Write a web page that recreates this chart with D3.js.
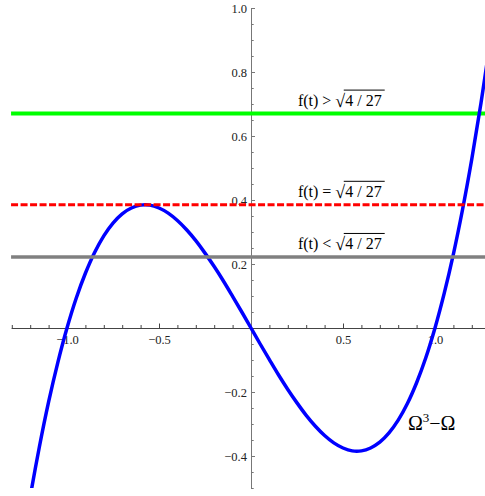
<!DOCTYPE html>
<html>
<head>
<meta charset="utf-8">
<script src="https://cdn.jsdelivr.net/npm/d3@7"></script>
<style>
  body { margin: 0; background: #fff; }
  text { font-family: "Liberation Serif", "Times New Roman", serif; }
</style>
</head>
<body>
<div id="chart"></div>
<script>
// curve samples (Omega, value)
var omega = [-1.25, -1.2, -1.15, -1.1, -1.05, -1.0, -0.95, -0.9, -0.85, -0.8, -0.75, -0.7, -0.65, -0.6, -0.55, -0.5, -0.45, -0.4, -0.35, -0.3, -0.25, -0.2, -0.15, -0.1, -0.05,
  0, 0.05, 0.1, 0.15, 0.2, 0.25, 0.3, 0.35, 0.4, 0.45, 0.5, 0.55, 0.6, 0.65, 0.7, 0.75, 0.8, 0.85, 0.9, 0.95, 1.0, 1.05, 1.1, 1.15, 1.2, 1.25, 1.3];
var curveValues = [-0.703, -0.528, -0.371, -0.231, -0.108, 0, 0.093, 0.171, 0.236, 0.288, 0.328, 0.357, 0.375, 0.384, 0.384, 0.375, 0.359, 0.336, 0.307, 0.273, 0.234, 0.192, 0.147, 0.099, 0.050,
  0, -0.050, -0.099, -0.147, -0.192, -0.234, -0.273, -0.307, -0.336, -0.359, -0.375, -0.384, -0.384, -0.375, -0.357, -0.328, -0.288, -0.236, -0.171, -0.093, 0, 0.108, 0.231, 0.371, 0.528, 0.703, 0.897];

var levels = [0.67, 0.385, 0.222];
var levelColors = ['#00ff00', '#ff0000', '#808080'];
var levelSigns = ['>', '=', '<'];

var xMajor = [-1.0, -0.5, 0.5, 1.0];
var yMajor = [-0.4, -0.2, 0.2, 0.4, 0.6, 0.8, 1.0];

var width = 485, height = 496;

var svg = d3.select('#chart').append('svg')
  .attr('width', width)
  .attr('height', height);

var x = d3.scaleLinear().domain([-1.304, 1.275]).range([251 - 1.304 * 184, 251 + 1.275 * 184]);
var y = d3.scaleLinear().domain([-0.5, 1.0]).range([488, 8]);

var xMinor = d3.range(-13, 13).map(function(i) { return i / 10; }).filter(function(v) { return Math.abs(v) > 1e-9 && xMajor.indexOf(v) < 0; });
var yMinor = d3.range(-10, 21).map(function(i) { return i / 20; }).filter(function(v) { return Math.abs(v) > 1e-9 && yMajor.every(function(m) { return Math.abs(m - v) > 1e-9; }); });

var fmt = d3.format('.1f');

// x axis
var gx = svg.append('g').attr('transform', 'translate(0,' + y(0) + ')');
gx.call(d3.axisBottom(x).tickValues(xMajor).tickFormat(fmt).tickSizeInner(-4.5).tickSizeOuter(0).tickPadding(7));
gx.append('g').call(d3.axisBottom(x).tickValues(xMinor).tickFormat('').tickSizeInner(-3).tickSizeOuter(0))
  .select('.domain').remove();
gx.selectAll('path, line').attr('stroke', '#444');
gx.selectAll('text').attr('fill', '#222').style('font-size', '12.5px').style('font-family', '"Liberation Serif", serif');

// y axis
var gy = svg.append('g').attr('transform', 'translate(' + x(0) + ',0)');
gy.call(d3.axisLeft(y).tickValues(yMajor).tickFormat(fmt).tickSizeInner(-4).tickSizeOuter(0).tickPadding(4));
gy.append('g').call(d3.axisLeft(y).tickValues(yMinor).tickFormat('').tickSizeInner(-2.7).tickSizeOuter(0))
  .select('.domain').remove();
gy.selectAll('path, line').attr('stroke', '#777');
gy.selectAll('text').attr('fill', '#222').style('font-size', '12.5px').style('font-family', '"Liberation Serif", serif');

svg.append('clipPath').attr('id', 'clip')
  .append('rect').attr('x', 0).attr('y', y(1.0)).attr('width', width).attr('height', y(-0.5) - y(1.0));

var plot = svg.append('g').attr('clip-path', 'url(#clip)');

function levelLine(i) {
  var l = plot.append('line')
    .attr('x1', x.range()[0]).attr('x2', x.range()[1])
    .attr('y1', y(levels[i])).attr('y2', y(levels[i]))
    .attr('stroke', levelColors[i])
    .attr('stroke-width', i === 0 ? 4 : 3.5);
  if (i === 1) l.attr('stroke-dasharray', '7,2.5').attr('stroke-width', 3);
}

levelLine(0);

var pts = omega.map(function(o, i) { return [o, curveValues[i]]; });
plot.append('path')
  .datum(pts)
  .attr('fill', 'none')
  .attr('stroke', '#0000ff')
  .attr('stroke-width', 3.5)
  .attr('d', d3.line().x(function(d) { return x(d[0]); }).y(function(d) { return y(d[1]); }).curve(d3.curveCatmullRom));

levelLine(1);
levelLine(2);

// labels f(t) ? sqrt(4/27)
levels.forEach(function(v, i) {
  var bx = x(0.255), by = y(v) - 8;
  var t1 = svg.append('text').attr('x', bx).attr('y', by)
    .style('font-size', '16px').text('f(t)\u00A0' + levelSigns[i] + '\u00A0');
  var w1 = t1.node().getComputedTextLength();
  var rad = svg.append('text').attr('x', bx + w1).attr('y', by + 1)
    .style('font-size', '18px').text('\u221A');
  var wr = rad.node().getComputedTextLength();
  var t2 = svg.append('text').attr('x', bx + w1 + wr).attr('y', by)
    .style('font-size', '16px').text('4\u2005/\u200527');
  var w2 = t2.node().getComputedTextLength() + 3;
  svg.append('line')
    .attr('x1', bx + w1 + wr - 1.5).attr('x2', bx + w1 + wr + w2)
    .attr('y1', by - 15.5).attr('y2', by - 15.5)
    .attr('stroke', '#000').attr('stroke-width', 1);
});

// curve label
var cl = svg.append('text').attr('x', x(0.853)).attr('y', y(-0.319)).style('font-size', '20px');
cl.append('tspan').text('\u03A9');
cl.append('tspan').attr('dy', -8).style('font-size', '13px').text('3');
cl.append('tspan').attr('dy', 8).text('\u2212\u03A9');
</script>
</body>
</html>
